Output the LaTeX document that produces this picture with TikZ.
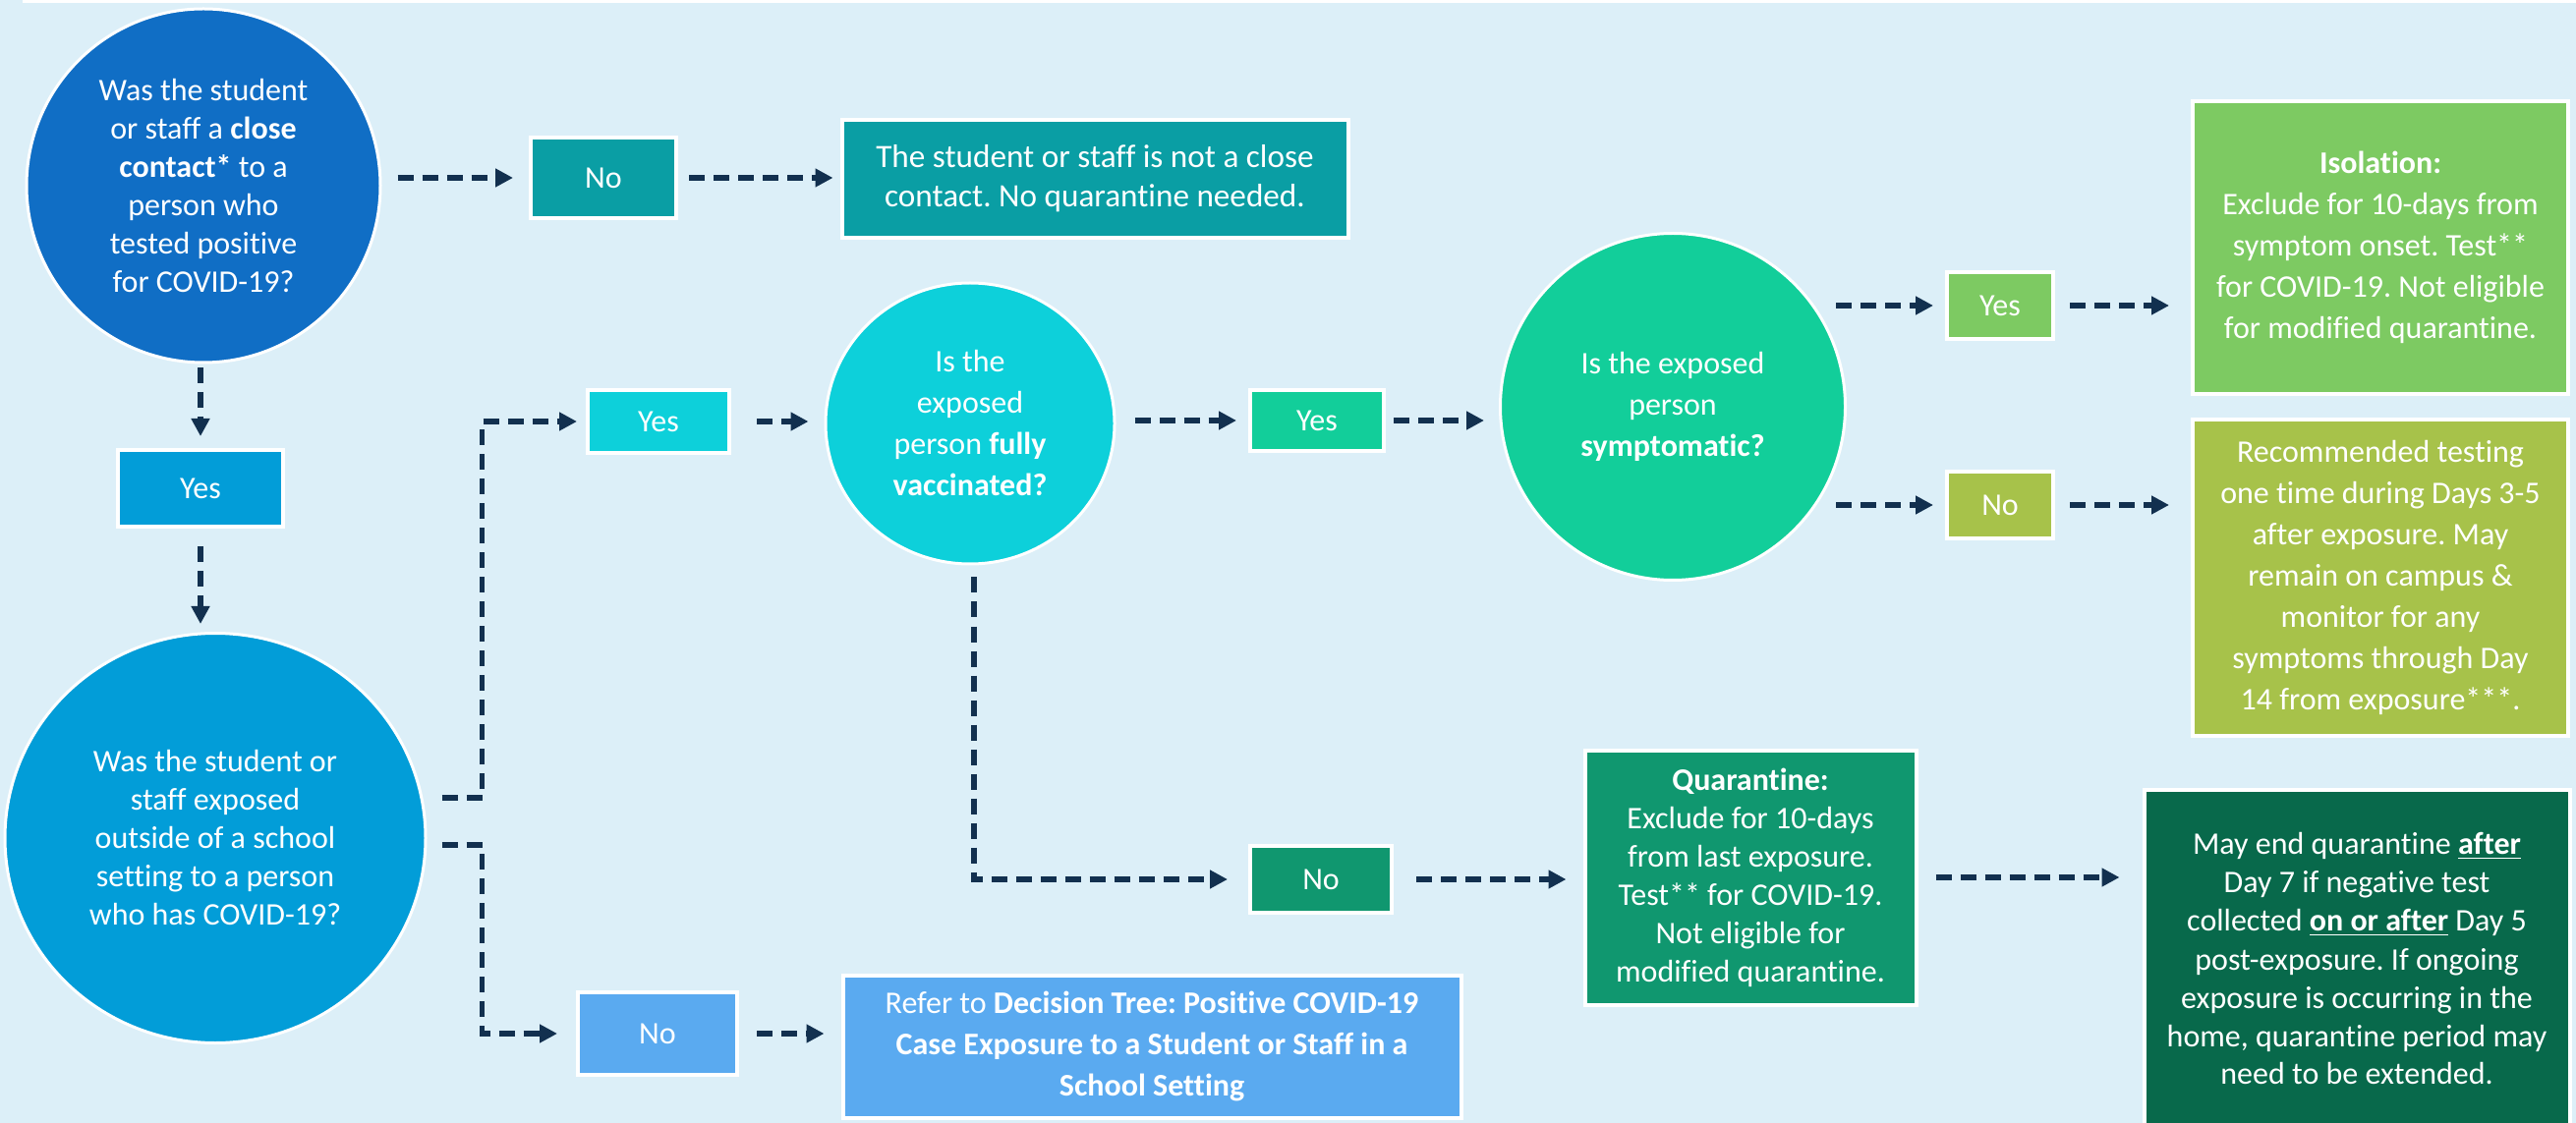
\documentclass[tikz,border=0pt]{standalone}
\usepackage{fontspec}
\setmainfont{Carlito}[Ligatures=NoCommon]
\frenchspacing
\usetikzlibrary{shapes.geometric,arrows.meta,calc}
\definecolor{bg}{HTML}{DCEFF8}
\definecolor{cA}{HTML}{106EC5}
\definecolor{teal}{HTML}{0A9EA4}
\definecolor{blueB}{HTML}{029DD8}
\definecolor{cyanC}{HTML}{0DD0DA}
\definecolor{mint}{HTML}{12CE9A}
\definecolor{leaf}{HTML}{7DCA62}
\definecolor{olive}{HTML}{A7C24A}
\definecolor{qgreen}{HTML}{10976F}
\definecolor{dgreen}{HTML}{08694B}
\definecolor{lblue}{HTML}{5AAAF0}
\definecolor{navy}{HTML}{12304F}
\tikzset{
  tA/.style={text=white, align=center, font=\fontsize{16}{19.5}\selectfont},
  tB/.style={text=white, align=center, font=\fontsize{16}{21}\selectfont},
  tC/.style={text=white, align=center, font=\fontsize{16.6}{20}\selectfont},
  rbox/.style={rectangle, draw=white, line width=2pt, inner sep=0pt},
  rnd/.style={ellipse, draw=white, line width=1.5pt, inner sep=0pt},
  arr/.style={draw=navy, line width=2.9pt, dash pattern=on 8pt off 4.5pt,
    -{Triangle[length=9pt,width=9pt]}},
}
\begin{document}
\begin{tikzpicture}[x=0.5pt,y=-0.5pt]
\clip (0,0) rectangle (2621,1143);
\fill[bg] (0,0) rectangle (2621,1143);
\fill[white] (23,0) rectangle (2621,3);

% circles
\node[rnd, tA, fill=cA, minimum width=180pt, minimum height=180pt] (c1) at (207,189)
  {Was the student\\or staff a \textbf{close}\\\textbf{contact*} to a\\person who\\tested positive\\for COVID-19?};
\node[rnd, tA, fill=blueB, minimum width=214pt, minimum height=208.5pt] (c2) at (219,853)
  {Was the student or\\staff exposed\\outside of a school\\setting to a person\\who has COVID-19?};
\node[rnd, tB, fill=cyanC, minimum width=147pt, minimum height=143pt] (c4) at (987,431)
  {Is the\\exposed\\person \textbf{fully}\\\textbf{vaccinated?}};
\node[rnd, tB, fill=mint, minimum width=175.5pt, minimum height=176.5pt] (c3) at (1702,414)
  {Is the exposed\\person\\\textbf{symptomatic?}};

% boxes
\node[rbox, tA, fill=teal, minimum width=74pt, minimum height=41pt] (no1) at (614,181) {No};
\node[rbox, tC, fill=teal, minimum width=257.5pt, minimum height=60pt] (notcc) at (1114,182)
  {The student or staff is not a close\\contact. No quarantine needed.};
\node[rbox, tA, fill=blueB, minimum width=84pt, minimum height=39pt] (yesL) at (204,497) {Yes};
\node[rbox, tA, fill=cyanC, minimum width=72pt, minimum height=32pt] (yesC) at (670,429) {Yes};
\node[rbox, tA, fill=mint, minimum width=68pt, minimum height=31pt] (yesG) at (1340,428) {Yes};
\node[rbox, tA, fill=leaf, minimum width=54pt, minimum height=34pt] (yesT) at (2035,311) {Yes};
\node[rbox, tA, fill=olive, minimum width=54pt, minimum height=34pt] (noO) at (2035,514) {No};
\node[rbox, tB, fill=leaf, minimum width=191pt, minimum height=149pt] (iso) at (2422,252)
  {\textbf{Isolation:}\\Exclude for 10-days from\\symptom onset. Test**\\for COVID-19. Not eligible\\for modified quarantine.};
\node[rbox, tB, fill=olive, minimum width=191pt, minimum height=161pt] (rec) at (2422,588)
  {Recommended testing\\one time during Days 3-5\\after exposure. May\\remain on campus \&\\monitor for any\\symptoms through Day\\14 from exposure***.};
\node[rbox, tA, fill=qgreen, minimum width=72pt, minimum height=34pt] (noQ) at (1344,895) {No};
\node[rbox, tA, fill=qgreen, minimum width=168.5pt, minimum height=129.5pt] (quar) at (1781,893)
  {\textbf{Quarantine:}\\Exclude for 10-days\\from last exposure.\\Test** for COVID-19.\\Not eligible for\\modified quarantine.};
\node[rbox, tA, fill=dgreen, minimum width=216.5pt, minimum height=172pt] (dark) at (2398,976)
  {May end quarantine \underline{\textbf{after}}\\Day 7 if negative test\\collected \underline{\textbf{on or after}} Day 5\\post-exposure. If ongoing\\exposure is occurring in the\\home, quarantine period may\\need to be extended.};
\node[rbox, tA, fill=lblue, minimum width=81pt, minimum height=42pt] (noB) at (669,1052) {No};
\node[rbox, tB, fill=lblue, minimum width=314.5pt, minimum height=72.5pt] (refer) at (1172,1065)
  {Refer to \textbf{Decision Tree: Positive COVID-19}\\\textbf{Case Exposure to a Student or Staff in a}\\\textbf{School Setting}};

% connectors
\draw[arr, shorten <=8pt, shorten >=8pt] (c1.east |- no1.west) -- (no1.west);
\draw[arr, shorten <=5.5pt, shorten >=3.5pt] (no1.east) -- (no1.east -| notcc.west);
\draw[arr, shorten <=2pt, shorten >=6pt] (c1.south -| yesL.north) -- (yesL.north);
\draw[arr, shorten <=9pt, shorten >=4pt] (yesL.south) -- (yesL.south |- c2.north);
\draw[arr, shorten >=4.5pt] ($(c2.east)+(15,-41)$) -- ++(41,0) |- (yesC.west);
\draw[arr, shorten >=9.5pt] ($(c2.east)+(15,7)$) -- ++(41,0) |- (noB.west);
\draw[arr, shorten <=9pt, shorten >=8.5pt] (noB.east) -- (noB.east -| refer.west);
\draw[arr, shorten <=13pt, shorten >=8pt] (yesC.east) -- (yesC.east -| c4.west);
\draw[arr, shorten <=9.5pt, shorten >=6pt] (c4.east |- yesG.west) -- (yesG.west);
\draw[arr, shorten <=4pt, shorten >=7.5pt] (yesG.east) -- (yesG.east -| c3.west);
\draw[arr, shorten >=6pt] ($(c3.east |- yesT.west)+(-11,0)$) -- (yesT.west);
\draw[arr, shorten >=6pt] ($(c3.east |- noO.west)+(-11,0)$) -- (noO.west);
\draw[arr, shorten <=7.5pt, shorten >=11pt] (yesT.east) -- (yesT.east -| iso.west);
\draw[arr, shorten <=7.5pt, shorten >=11pt] (noO.east) -- (noO.east -| rec.west);
\draw[arr, shorten >=10.5pt] ($(c4.south)+(4,12)$) |- (noQ.west);
\draw[arr, shorten <=11.5pt, shorten >=8.5pt] (noQ.east) -- (noQ.east -| quar.west);
\draw[arr, shorten <=9pt, shorten >=11.5pt] (quar.east) -- (quar.east -| dark.west);
\end{tikzpicture}
\end{document}
